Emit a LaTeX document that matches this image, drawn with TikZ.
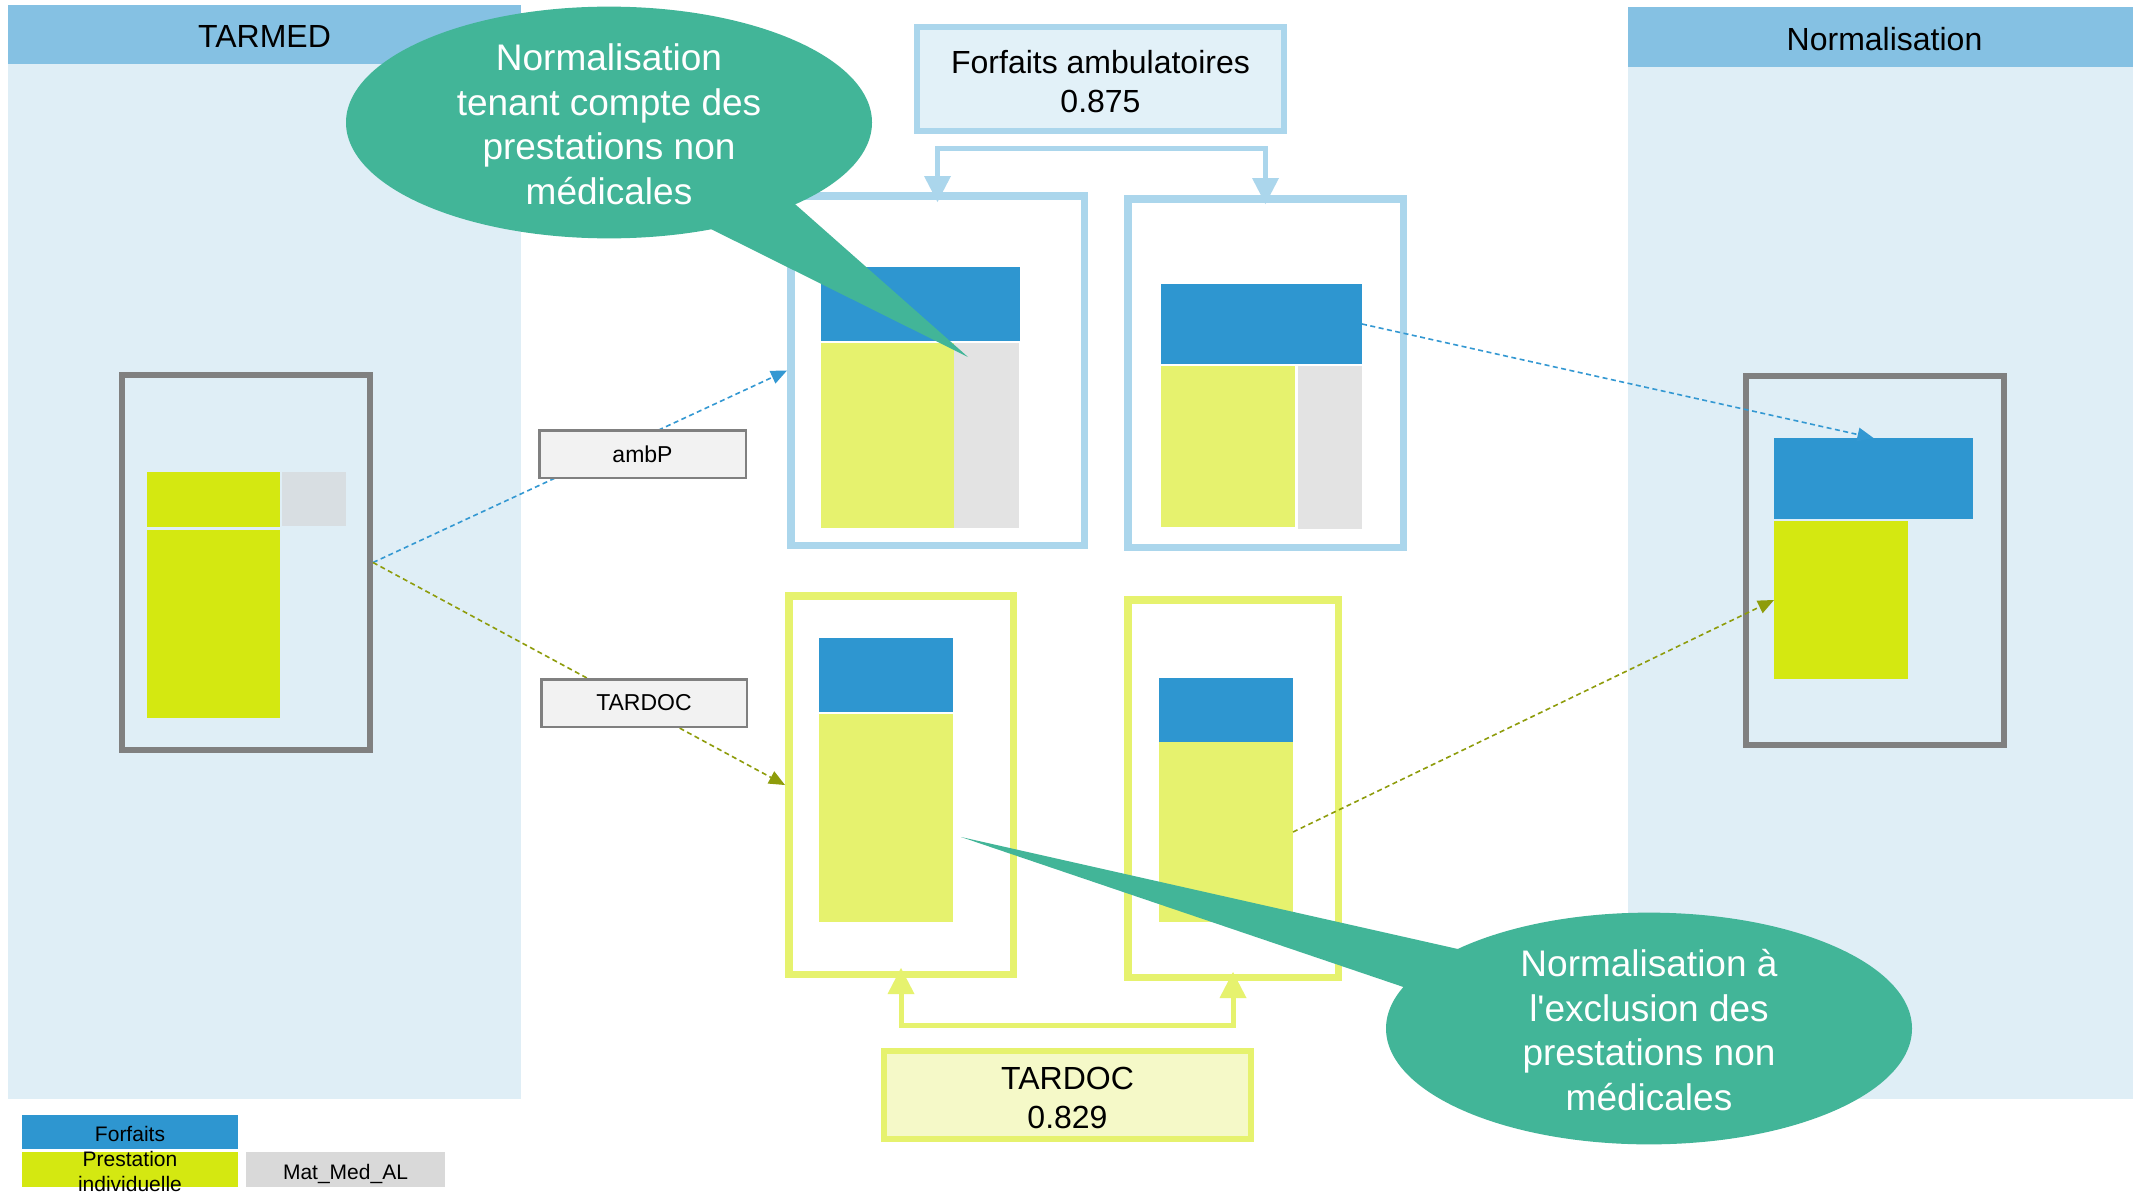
\documentclass[tikz,border=0pt]{standalone}
\usepackage{fontspec}
\setmainfont{Liberation Sans}
\usetikzlibrary{shapes.geometric,arrows.meta,calc}
\definecolor{cblue}{HTML}{2E96D0}
\definecolor{cpanel}{HTML}{DFEEF6}
\definecolor{chead}{HTML}{85C1E3}
\definecolor{cbright}{HTML}{D4E811}
\definecolor{clight}{HTML}{E6F26E}
\definecolor{cgray}{HTML}{E3E3E3}
\definecolor{cgrayl}{HTML}{D8DEE2}
\definecolor{clegray}{HTML}{D9D9D9}
\definecolor{cbord}{HTML}{ABD6EC}
\definecolor{cfillf}{HTML}{E2F1F8}
\definecolor{cfillt}{HTML}{F5F9C8}
\definecolor{cteal}{HTML}{42B598}
\definecolor{cframe}{HTML}{808080}
\definecolor{clabel}{HTML}{F2F2F2}
\definecolor{cdashb}{HTML}{3398D2}
\definecolor{cdasho}{HTML}{8E9C0B}
\begin{document}
\begin{tikzpicture}[x=1pt,y=-1pt,
  blk/.style={rectangle,inner sep=0pt,outer sep=0pt,draw=none,anchor=north west},
  grayframe/.style={rectangle,draw=cframe,line width=6pt,inner sep=0pt},
  blueframe/.style={rectangle,draw=cbord,fill=white,line width=7.5pt,inner sep=0pt},
  yelframe/.style={rectangle,draw=clight,fill=white,line width=7.5pt,inner sep=0pt},
  valbox/.style={rectangle,line width=6pt,inner sep=0pt,align=center,font=\fontsize{32}{39}\selectfont},
  lblbox/.style={rectangle,draw=cframe,fill=clabel,line width=2.5pt,inner sep=0pt,font=\fontsize{23}{27}\selectfont},
  bubble/.style={ellipse,fill=cteal,inner sep=0pt,minimum width=526pt,minimum height=231pt,text=white,align=center,font=\fontsize{37}{44.5}\selectfont},
  linkbar/.style={line width=5pt,line join=miter},
  bigtip/.style={{Triangle[length=26pt,width=27pt,line width=0pt]}-{Triangle[length=26pt,width=27pt,line width=0pt]}},
  bdash/.style={draw=cdashb,line width=1.6pt,dash pattern=on 5pt off 3.5pt,-{Triangle[length=16pt,width=14pt,line width=0pt]}},
  odash/.style={draw=cdasho,line width=1.6pt,dash pattern=on 5pt off 3.5pt,-{Triangle[length=16pt,width=14pt,line width=0pt]}},
  hdr/.style={blk,fill=chead,font=\fontsize{32}{38}\selectfont,text height=26pt,text depth=0pt},
  legtext/.style={font=\fontsize{21}{25}\selectfont}
]
\useasboundingbox (0,0) rectangle (2133,1191);
\fill[white] (0,0) rectangle (2133,1191);

% panels
\node[blk,fill=cpanel,minimum width=513pt,minimum height=1094pt] (panL) at (8,5) {};
\node[hdr,minimum width=513pt,minimum height=59pt] (hdrL) at (8,5) {TARMED};
\node[blk,fill=cpanel,minimum width=513pt,minimum height=1092pt] (panR) at (1628,7) {};
\node[hdr,minimum width=513pt,minimum height=60pt] (hdrR) at (1628,7) {Normalisation};

% legend
\node[blk,fill=cblue,minimum width=216pt,minimum height=34pt,legtext,text height=19.3pt,text depth=0pt] (legF) at (22,1115) {Forfaits};
\node[blk,fill=cbright,minimum width=216pt,minimum height=35pt] (legP) at (22,1152) {};
\node[legtext,align=center,inner sep=0pt] (legPt) at (130,1171.5) {Prestation\\individuelle};
\node[blk,fill=clegray,minimum width=199pt,minimum height=35pt,legtext,text height=20pt,text depth=0pt] (legM) at (246,1152) {Mat\_Med\_AL};

% left TARMED box
\node[grayframe,minimum width=248pt,minimum height=375pt] (lbox) at (246,562.5) {};
\node[blk,fill=cbright,minimum width=133pt,minimum height=55pt] (lyel1) at (147,472) {};
\node[blk,fill=cgrayl,minimum width=64pt,minimum height=54pt] (lgry) at (282,472) {};
\node[blk,fill=cbright,minimum width=133pt,minimum height=188pt] (lyel2) at (147,530) {};

% right normalisation box
\node[grayframe,minimum width=258pt,minimum height=369pt] (rbox) at (1875,560.5) {};
\node[blk,fill=cblue,minimum width=199pt,minimum height=81pt] (rblue) at (1774,438) {};
\node[blk,fill=cbright,minimum width=134pt,minimum height=158pt] (ryel) at (1774,521) {};

% forfaits ambulatoires
\node[valbox,draw=cbord,fill=cfillf,minimum width=367pt,minimum height=104pt] (fbox) at (1100.5,79) {\rule{0pt}{28.5pt}Forfaits ambulatoires\\0.875};

% upper middle boxes
\node[blueframe,minimum width=293.5pt,minimum height=349.5pt] (ulbox) at (937.5,370.5) {};
\node[blk,fill=cblue,minimum width=199pt,minimum height=74pt] (ulblue) at (821,267) {};
\node[blk,fill=clight,minimum width=133pt,minimum height=185pt] (ulyel) at (821,343) {};
\node[blk,fill=cgray,minimum width=65pt,minimum height=185pt] (ulgry) at (954,343) {};

\node[blueframe,minimum width=275.5pt,minimum height=348.5pt] (urbox) at (1265.5,373) {};
\node[blk,fill=cblue,minimum width=201pt,minimum height=80pt] (urblue) at (1161,284) {};
\node[blk,fill=clight,minimum width=134pt,minimum height=161pt] (uryel) at (1161,366) {};
\node[blk,fill=cgray,minimum width=64pt,minimum height=163pt] (urgry) at (1298,366) {};

% lower middle boxes
\node[yelframe,minimum width=224.5pt,minimum height=378.5pt] (llbox) at (901,785) {};
\node[blk,fill=cblue,minimum width=134pt,minimum height=74pt] (llblue) at (819,638) {};
\node[blk,fill=clight,minimum width=134pt,minimum height=208pt] (llyel) at (819,714) {};

\node[yelframe,minimum width=210.5pt,minimum height=377.5pt] (lrbox) at (1233,788.5) {};
\node[blk,fill=cblue,minimum width=134pt,minimum height=64pt] (lrblue) at (1159,678) {};
\node[blk,fill=clight,minimum width=134pt,minimum height=180pt] (lryel) at (1159,742) {};

% TARDOC value box
\node[valbox,draw=clight,fill=cfillt,minimum width=367pt,minimum height=88pt] (tbox) at (1067.5,1095) {\rule{0pt}{28.3pt}TARDOC\\0.829};

% connector bars
\coordinate (barA) at (1100,148);
\coordinate (barB) at (1067,1025);
\draw[linkbar,draw=cbord,bigtip] ($(ulbox.north)+(0,10)$) |- (barA) -| ($(urbox.north)+(0,9)$);
\draw[linkbar,draw=clight,bigtip] ($(llbox.south)+(0,-10)$) |- (barB) -| ($(lrbox.south)+(0,-9)$);

% dashed connectors
\draw[bdash] (lbox.east) -- (ulbox.west);
\draw[odash] (lbox.east) -- (llbox.west);
\draw[bdash] (urblue.east) -- (rblue.north);
\draw[odash] (lryel.east) -- (ryel.west);

% labels on the dashed lines
\node[lblbox,minimum width=206.5pt,minimum height=47.5pt] (ambp) at (642.5,454) {ambP};
\node[lblbox,minimum width=205.5pt,minimum height=47.5pt] (tardoclbl) at (644,703) {TARDOC};

% callouts
\node[bubble] (callA) at (609,122.5) {\rule{0pt}{30pt}Normalisation\\tenant compte des\\prestations non\\médicales};
\coordinate (tipA) at (968,357);
\fill[cteal] (tipA) -- (690,218.6) -- (775,186.4) -- cycle;

\node[bubble] (callB) at (1649,1028.5) {\rule{0pt}{30pt}Normalisation à\\l\textquotesingle exclusion des\\prestations non\\médicales};
\coordinate (tipB) at (961,837);
\fill[cteal] (tipB) -- (1480,954) -- (1430,996) -- cycle;
\end{tikzpicture}
\end{document}
